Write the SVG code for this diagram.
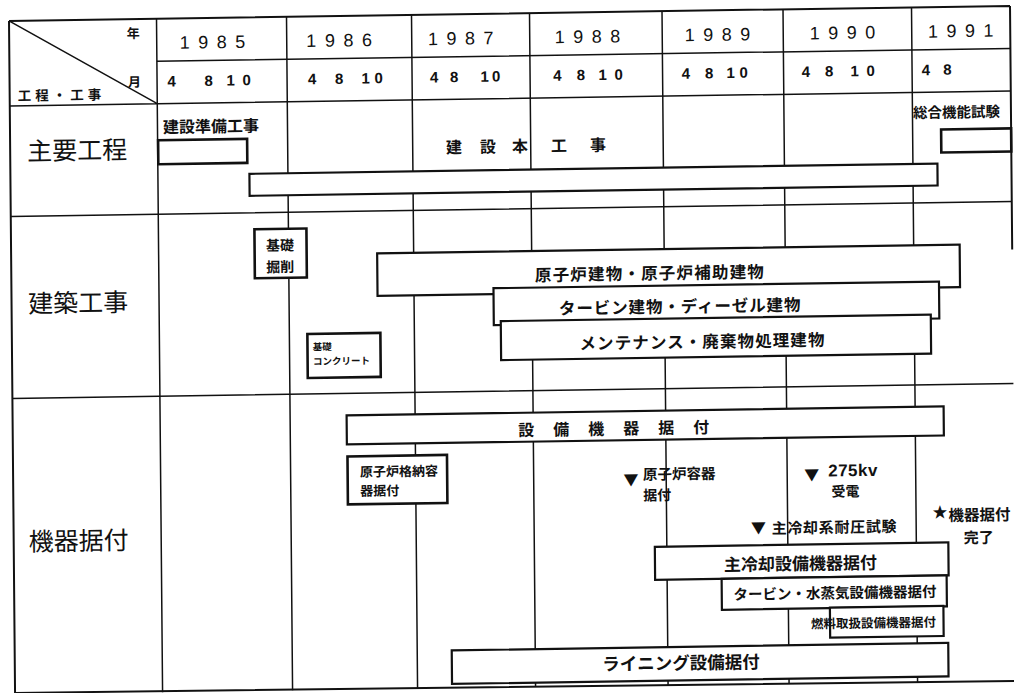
<svg xmlns="http://www.w3.org/2000/svg" width="1014" height="693" viewBox="0 0 1014 693">
<style>
.g{stroke:#111;stroke-width:1.5;fill:none}
.ob{stroke:#111;stroke-width:2;fill:none}
.bar{fill:#fff;stroke:#111;stroke-width:2.2}
.box{fill:#fff;stroke:#111;stroke-width:2.6}
.j{font-family:"Noto Sans CJK JP","Noto Sans CJK SC",sans-serif;fill:#111}
.jb{font-family:"Noto Sans CJK JP","Noto Sans CJK SC",sans-serif;font-weight:bold;fill:#111}
.yr{font-family:"Liberation Sans",Arial,sans-serif;font-size:18px;letter-spacing:8.5px;fill:#111}
.mo{font-family:"Liberation Sans",Arial,sans-serif;font-size:15px;font-weight:bold;fill:#111}
.c{text-anchor:middle}
</style>
<rect width="1014" height="693" fill="#fff"/>
<g transform="matrix(1,-0.015,0.009,1,-3.114,7.605)">
<g id="grid">
<path class="ob" d="M12,13.5 H1013 M12,13.5 V690 M1013,13.5 V257 M12,685.5 L1013,688.5"/>
<path class="g" d="M159.5,56 H1013 M12,98.5 H1013 M12,209 H1013 M12,391 H1013 M12,13.5 L159.5,98.5"/>
<path class="g" d="M159.5,13.5 V687 M289.5,13.5 V687 M414.5,13.5 V687 M532.5,13.5 V687 M665,13.5 V687.5 M786,13.5 V688 M914.5,13.5 V688.5"/>
</g>
<g id="connectors"></g>
<g id="header">
<text class="jb c" x="136" y="32.5" font-size="13">年</text>
<text class="jb c" x="137" y="81" font-size="13">月</text>
<text class="jb" x="20" y="93.4" font-size="13.5" letter-spacing="4">工程・工事</text>
<text class="yr" x="182.5" y="44">1985</text>
<text class="yr" x="309.1" y="44">1986</text>
<text class="yr" x="430.8" y="44">1987</text>
<text class="yr" x="557.5" y="44">1988</text>
<text class="yr" x="687.5" y="44">1989</text>
<text class="yr" x="812.5" y="44">1990</text>
<text class="yr" x="930.8" y="44">1991</text>
<text class="mo" x="170 207 229 245" y="81.4">4810</text>
<text class="mo" x="310.4 337.4 363.9 377" y="81.4">4810</text>
<text class="mo" x="432.4 452.4 482.9 494.5" y="81.4">4810</text>
<text class="mo" x="555.7 579.1 600.9 617" y="81.4">4810</text>
<text class="mo" x="684.1 707.4 728.9 742" y="81.4">4810</text>
<text class="mo" x="804.1 827.4 852.9 869" y="81.4">4810</text>
<text class="mo" x="924.1 945.7" y="81.4">48</text>
</g>
<g id="sec-main"><text class="j" x="29" y="153" font-size="25">主要工程</text></g>
<g id="sec-build"><text class="j" x="28.5" y="305.5" font-size="25">建築工事</text></g>
<g id="sec-equip"><text class="j" x="27" y="543.5" font-size="25">機器据付</text></g>
<g id="n-prep">
<rect class="box" x="160" y="135" width="89" height="24"/>
<text class="jb" x="165" y="127.8" font-size="16">建設準備工事</text>
</g>
<g id="n-main">
<rect class="bar" x="251" y="170" width="688" height="22"/>
<text class="jb c" font-size="16" y="152.4"><tspan x="455.8">建</tspan><tspan x="489.8">設</tspan><tspan x="521.8">本</tspan><tspan x="560.8">工</tspan><tspan x="599.8">事</tspan></text>
</g>
<g id="n-test">
<rect class="box" x="943" y="136" width="70" height="23"/>
<text class="jb" x="915" y="124.2" font-size="14.5">総合機能試験</text>
</g>
<g id="n-excav">
<rect class="box" x="255.5" y="225.5" width="52" height="49"/>
<text class="jb c" font-size="14"><tspan x="281" y="247.2">基礎</tspan><tspan x="281" y="268.7">掘削</tspan></text>
</g>
<g id="n-concrete">
<rect class="box" x="307.5" y="331" width="73" height="44"/>
<text class="jb" font-size="9.5"><tspan x="312.8" y="347.5">基礎</tspan><tspan x="312.8" y="362">コンクリート</tspan></text>
</g>
<g id="n-reactor-bldg">
<rect class="bar" x="378" y="251.5" width="582.5" height="42.5"/>
<text class="jb c" x="650.6" y="281.6" font-size="16.5" letter-spacing="1.2">原子炉建物・原子炉補助建物</text>
</g>
<g id="n-turbine-bldg">
<rect class="bar" x="494" y="288" width="445.5" height="37"/>
<text class="jb c" x="680.5" y="315.2" font-size="16.5" letter-spacing="0.9">タービン建物・ディーゼル建物</text>
</g>
<g id="n-maint-bldg">
<rect class="bar" x="501" y="321" width="430" height="39"/>
<text class="jb c" x="702.5" y="350.6" font-size="16.5" letter-spacing="1.1">メンテナンス・廃棄物処理建物</text>
</g>
<g id="n-equip">
<rect class="bar" x="346" y="413" width="597" height="29"/>
<text class="jb c" font-size="16" y="436.1"><tspan x="525.5">設</tspan><tspan x="560.5">備</tspan><tspan x="595.5">機</tspan><tspan x="630.5">器</tspan><tspan x="665.5">据</tspan><tspan x="700.5">付</tspan></text>
</g>
<g id="n-containment">
<rect class="box" x="346.5" y="454" width="99.5" height="48"/>
<text class="jb" font-size="13"><tspan x="358.9" y="474.5">原子炉格納容</tspan><tspan x="358.9" y="493.6">器据付</tspan></text>
</g>
<g id="m-vessel">
<text class="jb" font-size="14.5"><tspan x="622.3" y="487.5" font-size="15">▼</tspan><tspan x="641.8" y="481.8">原子炉容器</tspan><tspan x="641.8" y="502.6" font-size="14">据付</tspan></text>
</g>
<g id="m-power">
<text class="jb" font-size="14"><tspan x="803" y="485.2" font-size="15">▼</tspan><tspan x="827" y="481.3" font-family="Liberation Sans, Arial, sans-serif" font-size="17" letter-spacing="0.5">275kv</tspan><tspan x="830" y="501.5">受電</tspan></text>
</g>
<g id="m-pressure">
<text class="jb" font-size="15"><tspan x="749.2" y="537.5">▼</tspan><tspan x="770" y="537.6" letter-spacing="0.7">主冷却系耐圧試験</tspan></text>
</g>
<g id="m-complete">
<text class="jb" font-size="15.5"><tspan x="931" y="524" font-size="15">★</tspan><tspan x="947" y="527.5">機器据付</tspan><tspan x="962" y="550" font-size="15">完了</tspan></text>
</g>
<g id="n-cooling">
<rect class="bar" x="653" y="549" width="293.5" height="33"/>
<text class="jb c" x="798.5" y="574.2" font-size="17">主冷却設備機器据付</text>
</g>
<g id="n-turbine-equip">
<rect class="bar" x="719.5" y="582" width="225" height="31"/>
<text class="jb c" x="832.7" y="603.2" font-size="14.5">タービン・水蒸気設備機器据付</text>
</g>
<g id="n-fuel">
<rect class="bar" x="827.5" y="612.5" width="113.5" height="30"/>
<text class="jb c" x="871" y="633" font-size="12.5">燃料取扱設備機器据付</text>
</g>
<g id="n-lining">
<rect class="bar" x="449" y="649.5" width="496.5" height="33.5"/>
<text class="jb c" x="678" y="672" font-size="17.5">ライニング設備据付</text>
</g>
</g>
</svg>
